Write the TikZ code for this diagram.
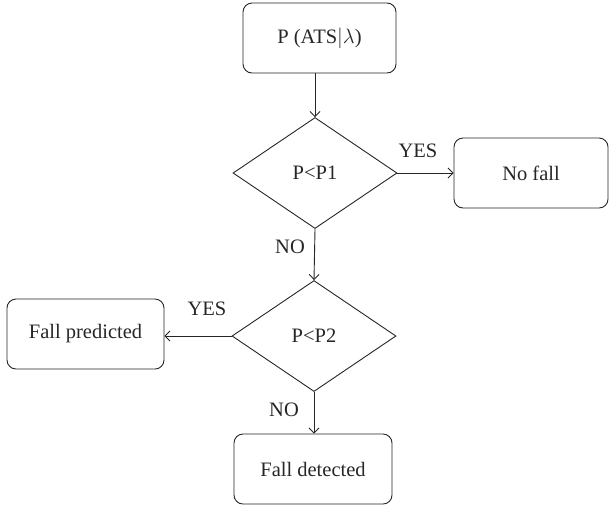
\documentclass[tikz,border=0pt]{standalone}
\usepackage{fontspec}
\setmainfont{Liberation Serif}
\usetikzlibrary{shapes.geometric,arrows.meta}
\begin{document}
\begin{tikzpicture}[x=1pt,y=-1pt,
  box/.style={draw=black!85,line width=0.9pt,rounded corners=9pt,minimum width=#1,minimum height=70pt,inner sep=0pt},
  dec/.style={draw=black!85,line width=0.9pt,diamond,aspect=1.48,minimum width=164pt,minimum height=111pt,inner sep=0pt},
  lab/.style={text=black!85},
  arr/.style={draw=black!85,line width=0.9pt,-{Straight Barb[length=5pt,width=10pt]}},
  every node/.append style={font=\fontsize{20.5}{23}\selectfont,text=black!85}]
\useasboundingbox (0,0) rectangle (609,507);
\node[box=153pt] (top) at (319.5,38) {P (ATS$|\lambda$)};
\node[dec] (d1) at (315,173) {P<P1};
\node[box=154pt] (nofall) at (531,173) {No fall};
\node[dec] (d2) at (314,336) {P<P2};
\node[box=157pt] (pred) at (85.5,334) {Fall predicted};
\node[box=158pt] (det) at (313,469) {Fall detected};
\draw[arr] (top.south -| d1.north) -- (d1.north);
\draw[arr] (d1.east) -- (nofall.west |- d1.east);
\draw[arr] (d1.south) -- (d2.north);
\draw[arr] (d2.west) -- (pred.east |- d2.west);
\draw[arr] (d2.south) -- (det.north -| d2.south);
\node[lab] (y1) at (418,151) {YES};
\node[lab] (n1) at (290,247) {NO};
\node[lab] (y2) at (207,309) {YES};
\node[lab] (n2) at (284,410) {NO};
\end{tikzpicture}
\end{document}
